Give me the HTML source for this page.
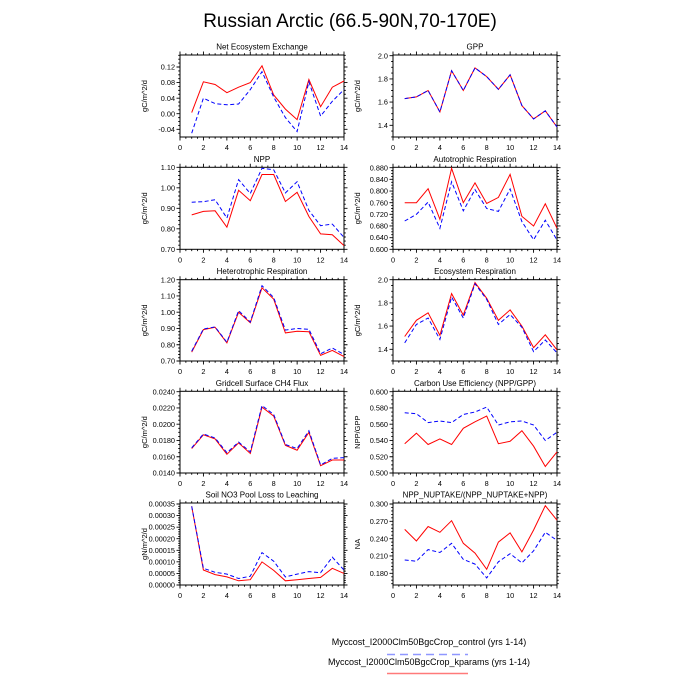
<!DOCTYPE html>
<html><head><meta charset="utf-8"><style>
html,body{margin:0;padding:0;background:#fff;}
svg{display:block;font-family:"Liberation Sans",sans-serif;}
</style></head><body>
<svg id="s" width="700" height="700" xmlns="http://www.w3.org/2000/svg">
<text x="350" y="27" font-size="19" text-anchor="middle">Russian Arctic (66.5-90N,70-170E)</text>
<text x="429" y="645" font-size="9" text-anchor="middle">Myccost_I2000Clm50BgcCrop_control (yrs 1-14)</text>
<line x1="387" y1="654.5" x2="468" y2="654.5" stroke="#8f97ff" stroke-width="1.5" stroke-dasharray="8,5"/>
<text x="429" y="665" font-size="9" text-anchor="middle">Myccost_I2000Clm50BgcCrop_kparams (yrs 1-14)</text>
<line x1="387" y1="673.5" x2="468" y2="673.5" stroke="#ff7a7a" stroke-width="1.5"/>
</svg>
<script>
var S=document.getElementById('s'),NS='http://www.w3.org/2000/svg';
function el(t,a,txt){var e=document.createElementNS(NS,t);for(var k in a)e.setAttribute(k,a[k]);if(txt!==undefined)e.textContent=txt;S.appendChild(e);return e;}
var P=[
{x0:180,x1:344,y0:55,y1:137,title:"Net Ecosystem Exchange",yl:"gC/m^2/d",t:[-0.04,0,0.04,0.08,0.12],tl:["-0.04","0.00","0.04","0.08","0.12"],v0:-0.04,p0:129.3,v1:0.12,p1:67,minor:0.01,
r:[0.003,0.082,0.075,0.054,0.068,0.08,0.123,0.048,0.012,-0.015,0.088,0.018,0.068,0.084],
b:[-0.05,0.04,0.026,0.023,0.025,0.062,0.108,0.043,-0.01,-0.046,0.082,-0.006,0.032,0.062]},
{x0:393,x1:557,y0:55,y1:137,title:"GPP",yl:"gC/m^2/d",t:[1.4,1.6,1.8,2.0],tl:["1.4","1.6","1.8","2.0"],v0:1.4,p0:125.3,v1:2.0,p1:55.7,minor:0.05,
r:[1.63,1.645,1.7,1.515,1.87,1.70,1.895,1.82,1.71,1.835,1.57,1.455,1.525,1.385],
b:[1.63,1.645,1.7,1.515,1.87,1.70,1.895,1.82,1.71,1.835,1.57,1.455,1.525,1.385]},
{x0:180,x1:344,y0:167.3,y1:249.3,title:"NPP",yl:"gC/m^2/d",t:[0.7,0.8,0.9,1.0,1.1],tl:["0.70","0.80","0.90","1.00","1.10"],v0:0.7,p0:249.3,v1:1.1,p1:167.3,minor:0.02,
r:[0.868,0.885,0.888,0.808,0.988,0.937,1.065,1.065,0.933,0.978,0.86,0.775,0.771,0.718],
b:[0.93,0.932,0.942,0.852,1.04,0.972,1.095,1.088,0.975,1.03,0.89,0.815,0.823,0.758]},
{x0:393,x1:557,y0:167.3,y1:249.3,title:"Autotrophic Respiration",yl:"gC/m^2/d",t:[0.6,0.64,0.68,0.72,0.76,0.8,0.84,0.88],tl:["0.600","0.640","0.680","0.720","0.760","0.800","0.840","0.880"],v0:0.6,p0:249.3,v1:0.88,p1:167.7,minor:0.01,
r:[0.76,0.76,0.808,0.703,0.878,0.76,0.828,0.757,0.778,0.857,0.713,0.68,0.756,0.672],
b:[0.697,0.72,0.762,0.672,0.832,0.732,0.805,0.74,0.73,0.807,0.695,0.633,0.70,0.632]},
{x0:180,x1:344,y0:279.7,y1:361,title:"Heterotrophic Respiration",yl:"gC/m^2/d",t:[0.7,0.8,0.9,1.0,1.1,1.2],tl:["0.70","0.80","0.90","1.00","1.10","1.20"],v0:0.7,p0:361,v1:1.2,p1:279.7,minor:0.02,
r:[0.755,0.893,0.907,0.812,1.0,0.935,1.15,1.08,0.873,0.883,0.88,0.735,0.765,0.727],
b:[0.76,0.897,0.91,0.815,1.01,0.94,1.163,1.09,0.89,0.9,0.895,0.745,0.78,0.74]},
{x0:393,x1:557,y0:279.7,y1:361,title:"Ecosystem Respiration",yl:"gC/m^2/d",t:[1.4,1.6,1.8,2.0],tl:["1.4","1.6","1.8","2.0"],v0:1.4,p0:349.3,v1:2.0,p1:279.7,minor:0.05,
r:[1.51,1.65,1.715,1.52,1.88,1.695,1.975,1.84,1.65,1.74,1.6,1.415,1.525,1.395],
b:[1.455,1.615,1.67,1.485,1.85,1.67,1.965,1.83,1.615,1.7,1.59,1.38,1.48,1.37]},
{x0:180,x1:344,y0:391.3,y1:473,title:"Gridcell Surface CH4 Flux",yl:"gC/m^2/d",t:[0.014,0.016,0.018,0.02,0.022,0.024],tl:["0.0140","0.0160","0.0180","0.0200","0.0220","0.0240"],v0:0.014,p0:473,v1:0.024,p1:391.7,minor:0.0005,
r:[0.0170,0.0187,0.0182,0.0163,0.0177,0.0164,0.0221,0.0210,0.0174,0.0168,0.0190,0.0149,0.0156,0.0156],
b:[0.0171,0.0188,0.0183,0.0165,0.0178,0.0166,0.0223,0.0212,0.0175,0.0170,0.0192,0.0150,0.0158,0.0159]},
{x0:393,x1:557,y0:391.3,y1:473,title:"Carbon Use Efficiency (NPP/GPP)",yl:"NPP/GPP",t:[0.5,0.52,0.54,0.56,0.58,0.6],tl:["0.500","0.520","0.540","0.560","0.580","0.600"],v0:0.5,p0:473,v1:0.6,p1:391.7,minor:0.005,
r:[0.536,0.549,0.535,0.542,0.535,0.555,0.563,0.570,0.536,0.539,0.552,0.533,0.508,0.526],
b:[0.574,0.573,0.562,0.564,0.562,0.572,0.575,0.581,0.559,0.563,0.564,0.559,0.540,0.550]},
{x0:180,x1:344,y0:503,y1:585,title:"Soil NO3 Pool Loss to Leaching",yl:"gN/m^2/d",t:[0,0.00005,0.0001,0.00015,0.0002,0.00025,0.0003,0.00035],tl:["0.00000","0.00005","0.00010","0.00015","0.00020","0.00025","0.00030","0.00035"],v0:0,p0:585,v1:0.00035,p1:504,minor:0.00001,
r:[0.00034,0.000065,0.000045,0.000035,0.000018,0.000023,0.0001,0.000063,0.000018,0.000023,0.000028,0.000033,0.000072,0.00005],
b:[0.00034,0.000072,0.000055,0.000047,0.000028,0.000038,0.00014,0.000103,0.000035,0.000047,0.000058,0.000053,0.00012,0.000065]},
{x0:393,x1:557,y0:503,y1:585,title:"NPP_NUPTAKE/(NPP_NUPTAKE+NPP)",yl:"NA",t:[0.18,0.21,0.24,0.27,0.3],tl:["0.180","0.210","0.240","0.270","0.300"],v0:0.18,p0:573.3,v1:0.3,p1:504,minor:0.006,
r:[0.256,0.236,0.261,0.251,0.271,0.232,0.215,0.187,0.234,0.25,0.217,0.255,0.297,0.272],
b:[0.203,0.201,0.221,0.216,0.232,0.204,0.196,0.172,0.2,0.214,0.198,0.219,0.251,0.237]}
];
P.forEach(function(p){
 var sx=function(v){return p.x0+(p.x1-p.x0)*v/14;};
 var sy=function(v){return p.p0+(v-p.v0)*(p.p1-p.p0)/(p.v1-p.v0);};
 var d='';
 for(var i=0;i<=28;i++){var x=sx(i/2),L=(i%4==0)?3.5:1.8;
  d+='M'+x+' '+p.y1+'v'+L+'M'+x+' '+p.y0+'v'+(-L);}
 var vmin=p.v0+(p.y1-p.p0)*(p.v1-p.v0)/(p.p1-p.p0), vmax=p.v0+(p.y0-p.p0)*(p.v1-p.v0)/(p.p1-p.p0);
 var k0=Math.ceil(vmin/p.minor-1e-6),k1=Math.floor(vmax/p.minor+1e-6);
 for(var k=k0;k<=k1;k++){var y=sy(k*p.minor);d+='M'+p.x0+' '+y+'h-1.8M'+p.x1+' '+y+'h1.8';}
 p.t.forEach(function(v,j){var y=sy(v);d+='M'+p.x0+' '+y+'h-3.5M'+p.x1+' '+y+'h3.5';
  el('text',{x:p.x0-5,y:y+2.6,'font-size':7.3,'text-anchor':'end'},p.tl[j]);});
 el('path',{d:d,stroke:'#000','stroke-width':0.9,fill:'none'});
 el('rect',{x:p.x0,y:p.y0,width:p.x1-p.x0,height:p.y1-p.y0,fill:'none',stroke:'#000','stroke-width':1});
 for(var i=0;i<=14;i+=2)el('text',{x:sx(i),y:p.y1+13,'font-size':7.3,'text-anchor':'middle'},String(i));
 el('text',{x:(p.x0+p.x1)/2,y:p.y0-5.5,'font-size':8,'text-anchor':'middle'},p.title);
 var cy=(p.y0+p.y1)/2,lx=p.x0-33;
 el('text',{x:lx,y:cy,'font-size':7.5,'text-anchor':'middle',transform:'rotate(-90 '+lx+' '+cy+')'},p.yl);
 var pts=function(a){return a.map(function(v,i){return sx(i+1).toFixed(1)+','+sy(v).toFixed(1);}).join(' ');};
 el('polyline',{points:pts(p.r),fill:'none',stroke:'#ff0000','stroke-width':1});
 el('polyline',{points:pts(p.b),fill:'none',stroke:'#0000ff','stroke-width':1,'stroke-dasharray':'4,2.5'});
});
</script>
</body></html>
